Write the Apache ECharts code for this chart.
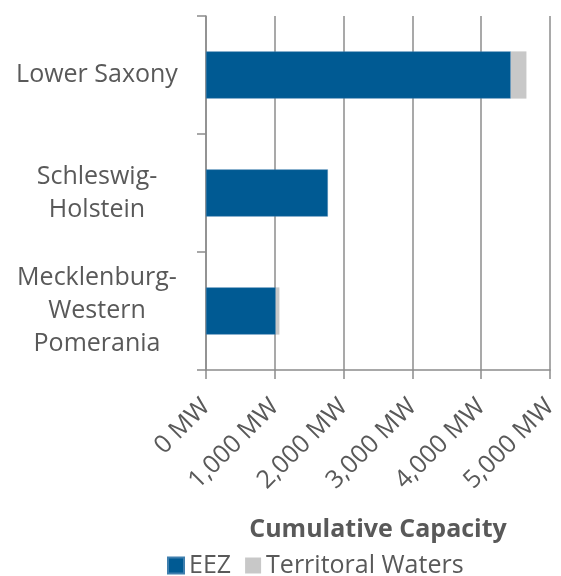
<!DOCTYPE html>
<html>
<head>
<meta charset="utf-8">
<script src="https://cdn.jsdelivr.net/npm/echarts@6/dist/echarts.min.js"></script>
<style>
html,body{margin:0;padding:0;background:#fff;}
#c{width:561px;height:576px;}
</style>
</head>
<body>
<div id="c"></div>
<script>
const categories = ['Lower Saxony', 'Schleswig-\nHolstein', 'Mecklenburg-\nWestern\nPomerania'];
const eez = [4430, 1771, 1014];
const territorial = [227, 0, 53];
const xTicks = [0, 1000, 2000, 3000, 4000, 5000];

const FONT = '"Open Sans", sans-serif';
const TXT = '#595959';
const AX = '#8c8c8c';

const chart = echarts.init(document.getElementById('c'));
chart.setOption({
  animation: false,
  textStyle: { fontFamily: FONT },
  grid: { left: 206, right: 6, top: 16, bottom: 206, containLabel: false },
  xAxis: {
    type: 'value',
    min: xTicks[0],
    max: xTicks[xTicks.length - 1],
    interval: 1000,
    name: 'Cumulative Capacity',
    nameLocation: 'middle',
    nameGap: 147,
    nameTextStyle: { fontFamily: FONT, fontSize: 25, fontWeight: 'bold', color: TXT },
    axisLine: { show: true, lineStyle: { color: AX, width: 1.5 } },
    axisTick: { show: true, length: 9, lineStyle: { color: AX, width: 1.5 } },
    splitLine: { show: true, lineStyle: { color: AX, width: 1.5 } },
    axisLabel: {
      rotate: 45,
      margin: 33,
      fontSize: 25,
      color: TXT,
      fontFamily: FONT,
      formatter: v => v.toLocaleString('en-US') + ' MW'
    }
  },
  yAxis: {
    type: 'category',
    data: categories,
    inverse: true,
    axisLine: { show: true, lineStyle: { color: AX, width: 1.5 } },
    axisTick: { show: true, length: 9, lineStyle: { color: AX, width: 1.5 } },
    splitLine: { show: false },
    axisLabel: {
      align: 'center',
      margin: 109,
      fontSize: 25,
      lineHeight: 33,
      color: TXT,
      fontFamily: FONT
    }
  },
  legend: {
    left: 167,
    top: 553,
    padding: 0,
    icon: 'rect',
    itemWidth: 16,
    itemHeight: 16,
    itemGap: 14,
    textStyle: { fontSize: 25, color: TXT, fontFamily: FONT },
    data: ['EEZ', 'Territoral Waters']
  },
  series: [
    {
      name: 'EEZ', type: 'bar', stack: 'total', data: eez,
      barWidth: '40%',
      itemStyle: { color: '#005A93', borderColor: '#3f7fae', borderWidth: 0.5 }
    },
    {
      name: 'Territoral Waters', type: 'bar', stack: 'total', data: territorial,
      barWidth: '40%',
      itemStyle: { color: '#C8C8C8' }
    }
  ]
});
</script>
</body>
</html>
